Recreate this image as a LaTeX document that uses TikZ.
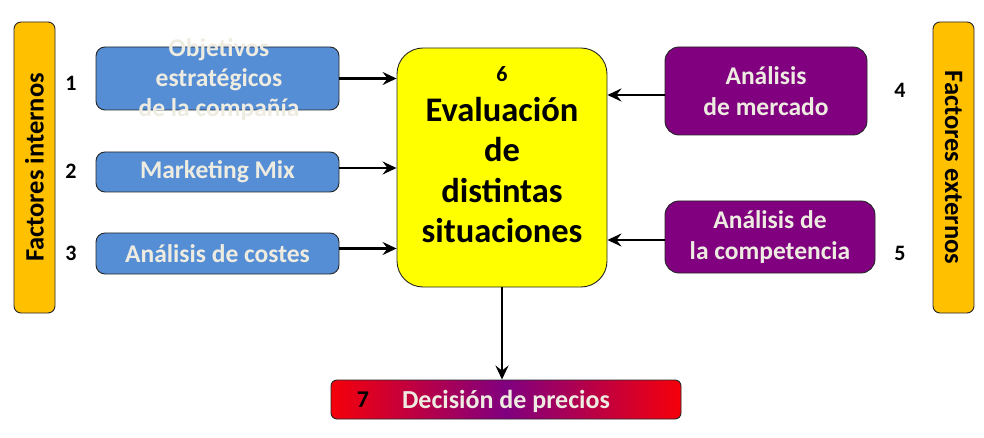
\documentclass[tikz,border=0pt]{standalone}
\usepackage{fontspec}
\setmainfont{Carlito}
\usetikzlibrary{arrows.meta}
\definecolor{boxblue}{RGB}{85,142,213}
\definecolor{boxpurple}{RGB}{128,0,128}
\definecolor{barorange}{RGB}{255,192,0}
\definecolor{txtlight}{RGB}{238,236,225}
\definecolor{gradred}{RGB}{245,0,10}
\definecolor{evalyellow}{RGB}{255,255,0}
\begin{document}
\begin{tikzpicture}[x=1pt,y=-1pt,
  basebox/.style={draw=black!85, line width=0.9pt, inner sep=0pt, align=center,
    font=\bfseries\fontsize{25.5}{31}\selectfont},
  bluebox/.style={basebox, fill=boxblue, text=txtlight, rounded corners=9pt},
  purplebox/.style={basebox, fill=boxpurple, text=txtlight, rounded corners=14pt},
  sidebar/.style={basebox, fill=barorange, text=black, rounded corners=7pt},
  numlabel/.style={inner sep=0pt, font=\bfseries\fontsize{22}{26}\selectfont},
  conn/.style={line width=2.4pt, -{Stealth[length=14pt,width=13pt,inset=5pt]}}
]
\useasboundingbox (0,0) rectangle (984,438);

% side bars
\node[sidebar, minimum width=41pt, minimum height=291pt] (intbar) at (34.5,167.5) {};
\node[rotate=90, inner sep=0pt, font=\bfseries\fontsize{26.5}{30}\selectfont] (inttxt) at (intbar.center) {Factores internos};
\node[sidebar, minimum width=41pt, minimum height=291pt] (extbar) at (953.5,167.5) {};
\node[rotate=-90, inner sep=0pt, font=\bfseries\fontsize{26.5}{30}\selectfont] (exttxt) at (extbar.center) {Factores externos};

% left boxes
\node[bluebox, minimum width=243pt, minimum height=63pt] (b1) at (217.5,78.5) {};
\node[inner sep=0pt, align=center, text=txtlight, font=\bfseries\fontsize{25.5}{30}\selectfont] (b1txt) at (219,80) {Objetivos\\estratégicos\\de la compañía};
\node[bluebox, minimum width=243pt, minimum height=40pt] (b2) at (217.5,172) {Marketing Mix};
\node[bluebox, minimum width=243pt, minimum height=41pt] (b3) at (217.5,253.5) {Análisis de costes};

\node[numlabel] (n1) at (71,83) {1};
\node[numlabel] (n2) at (71,171) {2};
\node[numlabel] (n3) at (71,253) {3};

% right boxes
\node[purplebox, minimum width=202pt, minimum height=88pt] (b4) at (766,91) {Análisis\\de mercado};
\node[purplebox, minimum width=210pt, minimum height=72pt] (b5) at (770,237) {Análisis de\\la competencia};
\node[numlabel] (n4) at (900,90) {4};
\node[numlabel] (n5) at (900,253) {5};

% central box
\node[draw=black!85, line width=0.9pt, fill=evalyellow, rounded corners=26pt, inner sep=0pt,
  minimum width=210pt, minimum height=239pt] (eval) at (502,167.5) {};
\node[numlabel] (n6) at (502,74) {6};
\node[inner sep=0pt, align=center, font=\bfseries\fontsize{34.5}{40.5}\selectfont] (evaltxt) at (502,170) {Evaluación\\de\\distintas\\situaciones};

% decision box
\node[draw=black!85, line width=0.9pt, rounded corners=6pt, inner sep=0pt,
  left color=gradred, right color=gradred, middle color=boxpurple,
  minimum width=350pt, minimum height=39pt] (dec) at (506,399.5) {};
\node[inner sep=0pt, text=txtlight, font=\bfseries\fontsize{26}{30}\selectfont] (dectxt) at (506,401) {Decisión de precios};
\node[numlabel, font=\bfseries\fontsize{24}{28}\selectfont] (n7) at (363,400) {7};

% connectors
\draw[conn] (b1.east) -- (b1.east -| eval.west);
\draw[conn] ([yshift=4pt]b2.east) -- ([yshift=4pt]b2.east -| eval.west);
\draw[conn] ([yshift=5pt]b3.east) -- ([yshift=5pt]b3.east -| eval.west);
\draw[conn] ([yshift=-4pt]b4.west) -- ([yshift=-4pt]b4.west -| eval.east);
\draw[conn] ([yshift=-3pt]b5.west) -- ([yshift=-3pt]b5.west -| eval.east);
\draw[conn] (eval.south) -- (eval.south |- dec.north);
\end{tikzpicture}
\end{document}
